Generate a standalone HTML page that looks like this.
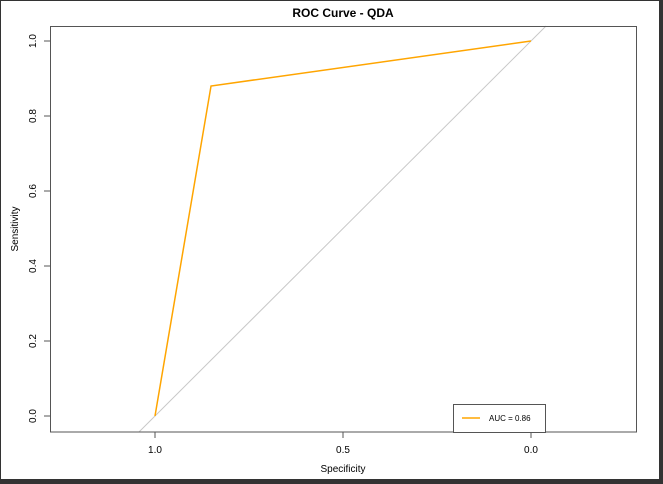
<!DOCTYPE html>
<html><head><meta charset="utf-8"><style>
html,body{margin:0;padding:0;background:#fff;width:663px;height:484px;overflow:hidden;}
svg{display:block;font-family:"Liberation Sans",sans-serif;}
</style></head><body>
<svg width="663" height="484" id="chart">
<rect x="0.5" y="0.5" width="659" height="479" fill="#fff" stroke="#333" stroke-width="1"/>
<rect x="660" y="0" width="3" height="484" fill="#333"/>
<rect x="0" y="480" width="663" height="4" fill="#333"/>
<text x="343" y="17" text-anchor="middle" font-weight="bold" font-size="12">ROC Curve - QDA</text>
<text x="343" y="472" text-anchor="middle" font-size="10">Specificity</text>
<text transform="translate(18,229) rotate(-90)" text-anchor="middle" font-size="10">Sensitivity</text>
<g id="plot"></g>
<rect x="50.5" y="26.5" width="586" height="405.5" fill="none" stroke="#555"/>
<g>
<rect x="453.5" y="404.5" width="92" height="28" fill="#fff" stroke="#555"/>
<line x1="462" y1="418" x2="480" y2="418" stroke="orange" stroke-width="1.5"/>
<text x="489" y="421" font-size="8">AUC = 0.86</text>
</g>
</svg>
<script>
const specificity=[1.0,0.851,0.0];
const sensitivity=[0.0,0.88,1.0];
const xTicks=[1.0,0.5,0.0];
const xTickLabels=["1.0","0.5","0.0"];
const yTicks=[0,0.2,0.4,0.6,0.8,1.0];
const yTickLabels=["0.0","0.2","0.4","0.6","0.8","1.0"];
const NS="http://www.w3.org/2000/svg";
const X=s=>155+(1-s)*376;
const Y=v=>416-v*375;
const Yinv=y=>(416-y)/375;
const g=document.getElementById('plot');
function mk(t,a){const e=document.createElementNS(NS,t);for(const k in a)e.setAttribute(k,a[k]);g.appendChild(e);return e;}
const sBot=Yinv(432), sTop=Yinv(26);
const d=mk('line',{x1:X(1-sBot),y1:Y(sBot),x2:X(1-sTop),y2:Y(sTop),stroke:'#c8c8c8','stroke-width':1});


const p=mk('polyline',{points:specificity.map((s,i)=>X(s)+','+Y(sensitivity[i])).join(' '),fill:'none',stroke:'orange','stroke-width':1.5});


xTicks.forEach((t,i)=>{
 const l=mk('line',{x1:X(t),y1:432,x2:X(t),y2:438,stroke:'#555'});
 
 
 const tx=mk('text',{x:X(t),y:453,'text-anchor':'middle','font-size':10});
 tx.textContent=xTickLabels[i];
 
 
});
yTicks.forEach((t,i)=>{
 const l=mk('line',{x1:44,y1:Y(t),x2:50,y2:Y(t),stroke:'#555'});
 
 
 const tx=mk('text',{transform:`translate(36,${Y(t)}) rotate(-90)`,'text-anchor':'middle','font-size':10});
 tx.textContent=yTickLabels[i];
 
 
});
</script>
</body></html>
